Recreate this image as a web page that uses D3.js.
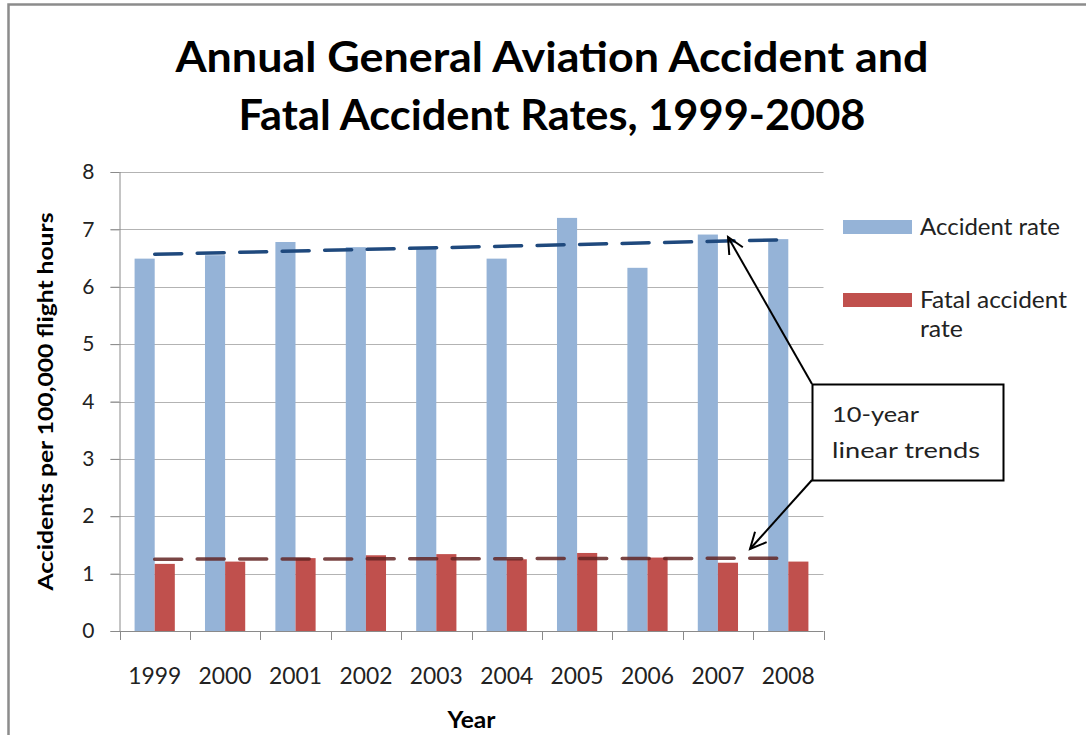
<!DOCTYPE html>
<html>
<head>
<meta charset="utf-8">
<script src="https://cdn.jsdelivr.net/npm/d3@7"></script>
<style>
  body { margin: 0; background: #fff; }
  svg { display: block; font-family: Lato, "Open Sans", sans-serif; }
</style>
</head>
<body>
<div id="chart"></div>
<script>
// data
const years = ['1999', '2000', '2001', '2002', '2003', '2004', '2005', '2006', '2007', '2008'];
const accidentRate = [6.49, 6.55, 6.78, 6.69, 6.67, 6.49, 7.20, 6.33, 6.91, 6.83];
const fatalRate = [1.17, 1.21, 1.27, 1.32, 1.34, 1.25, 1.36, 1.28, 1.19, 1.21];
const seriesNames = ['Accident rate', 'Fatal accident rate'];
const yTicks = [0, 1, 2, 3, 4, 5, 6, 7, 8];
const titleLines = ['Annual General Aviation Accident and', 'Fatal Accident Rates, 1999-2008'];
const noteLines = ['10-year', 'linear trends'];

const width = 1086, height = 735;
const plotLeft = 119.5, plotRight = 823.5, plotTop = 172, plotBottom = 631;

const svg = d3.select('#chart').append('svg')
  .attr('width', width)
  .attr('height', height);

// outer chart border (only top and left visible)
svg.append('path')
  .attr('d', `M8.5,${height + 5} V4.5 H${width + 5}`)
  .attr('fill', 'none')
  .attr('stroke', '#8c8c8c')
  .attr('stroke-width', 2.5);

// title
svg.append('g').selectAll('text')
  .data(titleLines)
  .join('text')
  .attr('x', 552)
  .attr('y', (d, i) => 72 + i * 58)
  .attr('text-anchor', 'middle')
  .attr('font-size', 42)
  .attr('font-weight', 'bold')
  .attr('fill', '#000')
  .attr('textLength', (d, i) => i === 0 ? 753 : 627)
  .attr('lengthAdjust', 'spacingAndGlyphs')
  .text(d => d);

// scales
const x = d3.scaleBand().domain(years).range([plotLeft, plotRight]).paddingInner(0).paddingOuter(0);
const xs = d3.scaleBand().domain(seriesNames).range([0, x.bandwidth()]).paddingInner(0).paddingOuter(0.75);
const y = d3.scaleLinear().domain([0, 8]).range([plotBottom, plotTop]);
const colors = d3.scaleOrdinal().domain(seriesNames).range(['#95b3d7', '#c0504d']);
const trendColors = ['#1f497d', '#632523'];

// gridlines
svg.append('g').selectAll('line')
  .data(yTicks.filter(d => d > 0))
  .join('line')
  .attr('x1', plotLeft - 9).attr('x2', plotRight)
  .attr('y1', d => Math.round(y(d)) + 0.5)
  .attr('y2', d => Math.round(y(d)) + 0.5)
  .attr('stroke', '#b3b3b3');

// y axis
const yAxis = svg.append('g')
  .attr('transform', `translate(${plotLeft},0)`)
  .call(d3.axisLeft(y).tickValues(yTicks).tickSize(9).tickPadding(16).tickFormat(d3.format('d')));
yAxis.select('.domain').attr('stroke', '#8a8a8a').attr('d', `M0.5,${plotTop}V${plotBottom}`);
yAxis.selectAll('.tick line').attr('stroke', '#8a8a8a');
yAxis.selectAll('.tick text').attr('font-size', 21).attr('fill', '#222').attr('font-family', 'Lato, sans-serif');

// bars
const dataRows = years.map((yr, i) => ({ year: yr, values: [accidentRate[i], fatalRate[i]] }));
svg.append('g').selectAll('g')
  .data(dataRows)
  .join('g')
  .attr('transform', d => `translate(${x(d.year)},0)`)
  .selectAll('rect')
  .data(d => d.values.map((v, k) => ({ key: seriesNames[k], value: v })))
  .join('rect')
  .attr('x', d => xs(d.key))
  .attr('width', xs.bandwidth())
  .attr('y', d => y(d.value))
  .attr('height', d => y(0) - y(d.value))
  .attr('fill', d => colors(d.key));

// x axis
svg.append('line')
  .attr('x1', plotLeft - 9).attr('x2', plotRight)
  .attr('y1', plotBottom + 0.5).attr('y2', plotBottom + 0.5)
  .attr('stroke', '#8a8a8a');
svg.append('g').selectAll('line')
  .data(years.map(d => x(d)).concat([plotRight]))
  .join('line')
  .attr('x1', d => Math.round(d) + 0.5).attr('x2', d => Math.round(d) + 0.5)
  .attr('y1', plotBottom).attr('y2', plotBottom + 9)
  .attr('stroke', '#8a8a8a');
const xAxis = svg.append('g')
  .attr('transform', `translate(0,${plotBottom})`)
  .call(d3.axisBottom(x).tickSize(0).tickPadding(36));
xAxis.select('.domain').remove();
xAxis.selectAll('.tick text')
  .attr('font-size', 24)
  .attr('fill', '#222')
  .attr('font-family', 'Lato, sans-serif')
  .attr('textLength', 53)
  .attr('lengthAdjust', 'spacingAndGlyphs');

// linear trend lines (least squares fit of each series)
function linearFit(vals) {
  const n = vals.length;
  const mx = (n - 1) / 2;
  const my = d3.mean(vals);
  const sxy = d3.sum(vals, (v, i) => (i - mx) * (v - my));
  const sxx = d3.sum(vals, (v, i) => (i - mx) * (i - mx));
  const slope = sxy / sxx;
  return vals.map((v, i) => my + slope * (i - mx));
}
const trendLine = d3.line()
  .x(d => x(d.year) + x.bandwidth() / 2)
  .y(d => y(d.value));
[accidentRate, fatalRate].forEach((vals, k) => {
  const fit = linearFit(vals);
  const ends = [
    { year: years[0], value: fit[0] },
    { year: years[years.length - 1], value: fit[fit.length - 1] }
  ];
  svg.append('path')
    .datum(ends)
    .attr('d', trendLine)
    .attr('fill', 'none')
    .attr('stroke', trendColors[k])
    .attr('stroke-width', 3.5)
    .attr('stroke-linecap', 'round')
    .attr('stroke-dasharray', '27 15.5')
    .attr('opacity', k === 1 ? 0.85 : 1);
});

// axis titles
svg.append('text')
  .attr('transform', `translate(53,${(plotTop + plotBottom) / 2}) rotate(-90)`)
  .attr('text-anchor', 'middle')
  .attr('font-size', 21)
  .attr('font-weight', 'bold')
  .attr('textLength', 378)
  .attr('lengthAdjust', 'spacingAndGlyphs')
  .text('Accidents per 100,000 flight hours');
svg.append('text')
  .attr('x', (plotLeft + plotRight) / 2)
  .attr('y', 728)
  .attr('text-anchor', 'middle')
  .attr('font-size', 22)
  .attr('font-weight', 'bold')
  .attr('textLength', 48)
  .attr('lengthAdjust', 'spacingAndGlyphs')
  .text('Year');

// legend
const legend = svg.append('g').attr('transform', 'translate(843,220)');
const legendRows = [
  { name: seriesNames[0], lines: ['Accident rate'], widths: [140] },
  { name: seriesNames[1], lines: ['Fatal accident', 'rate'], widths: [147, 43] }
];
legendRows.forEach((row, i) => {
  const g = legend.append('g').attr('transform', `translate(0,${i * 73})`);
  g.append('rect').attr('width', 69).attr('height', 14).attr('fill', colors(row.name));
  g.selectAll('text')
    .data(row.lines)
    .join('text')
    .attr('x', 77)
    .attr('y', (d, j) => 15 + j * 29)
    .attr('font-size', 23)
    .attr('fill', '#222')
    .attr('textLength', (d, j) => row.widths[j])
    .attr('lengthAdjust', 'spacingAndGlyphs')
    .text(d => d);
});

// annotation box and arrows
const box = { x: 812, y: 384, w: 191, h: 96 };
svg.append('rect')
  .attr('x', box.x + 0.5).attr('y', box.y + 0.5)
  .attr('width', box.w).attr('height', box.h)
  .attr('fill', '#fff')
  .attr('stroke', '#000')
  .attr('stroke-width', 2);
svg.append('g').selectAll('text')
  .data(noteLines)
  .join('text')
  .attr('x', 832)
  .attr('y', (d, i) => 422 + i * 36)
  .attr('font-size', 22)
  .attr('fill', '#222')
  .attr('textLength', (d, i) => i === 0 ? 87 : 148)
  .attr('lengthAdjust', 'spacingAndGlyphs')
  .text(d => d);

const arrows = [
  { from: [box.x, box.y], to: [728, 237] },
  { from: [box.x, box.y + box.h], to: [750, 549] }
];
arrows.forEach(a => {
  const [x1, y1] = a.from, [x2, y2] = a.to;
  const ang = Math.atan2(y2 - y1, x2 - x1);
  const len = 18, spread = Math.PI / 7;
  const p1 = [x2 - len * Math.cos(ang - spread), y2 - len * Math.sin(ang - spread)];
  const p2 = [x2 - len * Math.cos(ang + spread), y2 - len * Math.sin(ang + spread)];
  svg.append('line')
    .attr('x1', x1).attr('y1', y1).attr('x2', x2).attr('y2', y2)
    .attr('stroke', '#000').attr('stroke-width', 2);
  svg.append('path')
    .attr('d', `M${p1}L${x2},${y2}L${p2}`)
    .attr('fill', 'none')
    .attr('stroke', '#000')
    .attr('stroke-width', 2);
});
</script>
</body>
</html>
